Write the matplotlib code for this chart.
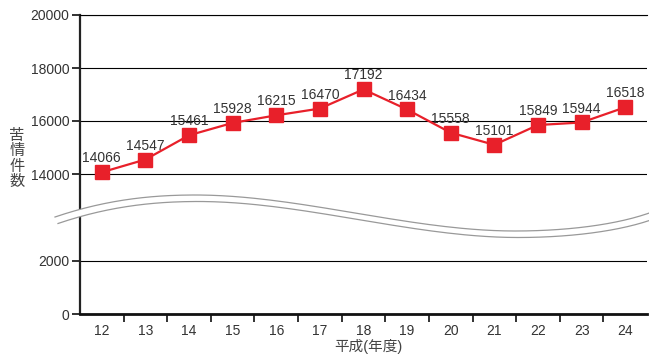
import numpy as np
import matplotlib
matplotlib.use("Agg")
import matplotlib.pyplot as plt
from matplotlib.patches import Polygon
from matplotlib.lines import Line2D

plt.rcParams["font.family"] = ["Liberation Sans", "Noto Sans CJK JP"]

# complaints per fiscal year (Heisei era)
years = ["12", "13", "14", "15", "16", "17", "18", "19", "20", "21", "22", "23", "24"]
counts = [14066, 14547, 15461, 15928, 16215, 16470, 17192, 16434, 15558, 15101, 15849, 15944, 16518]
top_ticks = [14000, 16000, 18000, 20000]
bottom_ticks = [0, 2000]

RED = "#e8202a"
TXT = "#333333"
W, H = 649, 354
PX_PER_UNIT = 0.0265          # pixels per complaint on both halves
BREAK_Y = 212                 # pixel row where the two halves meet

fig = plt.figure(figsize=(W / 100, H / 100), dpi=100)
left, right = 80 / W, 647 / W
ax_top = fig.add_axes([left, 1 - BREAK_Y / H, right - left, (BREAK_Y - 15) / H])
ax_bot = fig.add_axes([left, 1 - 314 / H, right - left, (314 - BREAK_Y) / H], sharex=ax_top)

x = np.arange(len(years))
ax_top.plot(x, counts, color=RED, lw=1.6, marker="s", ms=9.5, mec=RED, mfc=RED, zorder=5)
for xi, v in zip(x, counts):
    ax_top.annotate(f"{v}", (xi, v), xytext=(0, 5), textcoords="offset points",
                    ha="center", va="bottom", fontsize=10, color=TXT, annotation_clip=False)

ax_top.set_ylim(20000 - (BREAK_Y - 15) / PX_PER_UNIT, 20000)
ax_bot.set_ylim(0, (314 - BREAK_Y) / PX_PER_UNIT)
ax_top.set_yticks(top_ticks)
ax_bot.set_yticks(bottom_ticks)
ax_top.set_xlim(-0.5, len(years) - 0.5)

for ax in (ax_top, ax_bot):
    ax.yaxis.grid(True, color="black", lw=0.8)
    ax.set_axisbelow(True)
    ax.spines["right"].set_visible(False)
    ax.spines["left"].set_color("#222222")
    ax.spines["left"].set_linewidth(1.6)
    ax.tick_params(axis="y", length=6, width=1.3, color="#222222", pad=1.5,
                   labelsize=10, labelcolor=TXT)

ax_top.spines["bottom"].set_visible(False)
ax_top.spines["top"].set_linewidth(0.8)
ax_top.tick_params(axis="x", which="both", bottom=False, labelbottom=False)
ax_bot.spines["top"].set_visible(False)
ax_bot.spines["bottom"].set_color("#111111")
ax_bot.spines["bottom"].set_linewidth(2)

ax_bot.set_xticks(x)
ax_bot.set_xticklabels(years)
ax_bot.set_xticks(np.arange(len(years) - 1) + 0.5, minor=True)
ax_bot.tick_params(axis="x", which="major", length=0, pad=7, labelsize=10, labelcolor=TXT)
ax_bot.tick_params(axis="x", which="minor", length=6, width=1.3, color="#222222")

fig.text(368 / W, 1 - 346 / H, "平成(年度)", ha="center", va="center", fontsize=10.5, color="#444444")
fig.text(17 / W, 1 - 159 / H, "苦\n情\n件\n数", ha="center", va="center", fontsize=11,
         color="#444444", linespacing=1.1)


# wavy break across the lower part of the chart, in pixel coordinates
def bezier(p0, p1, p2, p3, n=60):
    t = np.linspace(0, 1, n)[:, None]
    p0, p1, p2, p3 = map(np.asarray, (p0, p1, p2, p3))
    return (1 - t) ** 3 * p0 + 3 * (1 - t) ** 2 * t * p1 + 3 * (1 - t) * t ** 2 * p2 + t ** 3 * p3


upper = np.vstack([
    bezier((55, 217), (105, 200), (150, 195), (195, 195)),
    bezier((195, 195), (300, 195), (410, 231), (515, 231)),
    bezier((515, 231), (570, 231), (620, 224), (652, 212)),
])
lower = upper + np.array([3, 6.5])


def to_fig(pts):
    return np.column_stack([pts[:, 0] / W, 1 - pts[:, 1] / H])


band = Polygon(np.vstack([to_fig(upper), to_fig(lower)[::-1]]), closed=True,
               facecolor="white", edgecolor="none", transform=fig.transFigure, zorder=10)
fig.add_artist(band)
for curve in (upper, lower):
    pts = to_fig(curve)
    fig.add_artist(Line2D(pts[:, 0], pts[:, 1], color="#999999", lw=0.9,
                          transform=fig.transFigure, zorder=11))

fig.savefig("out.png", dpi=100)
